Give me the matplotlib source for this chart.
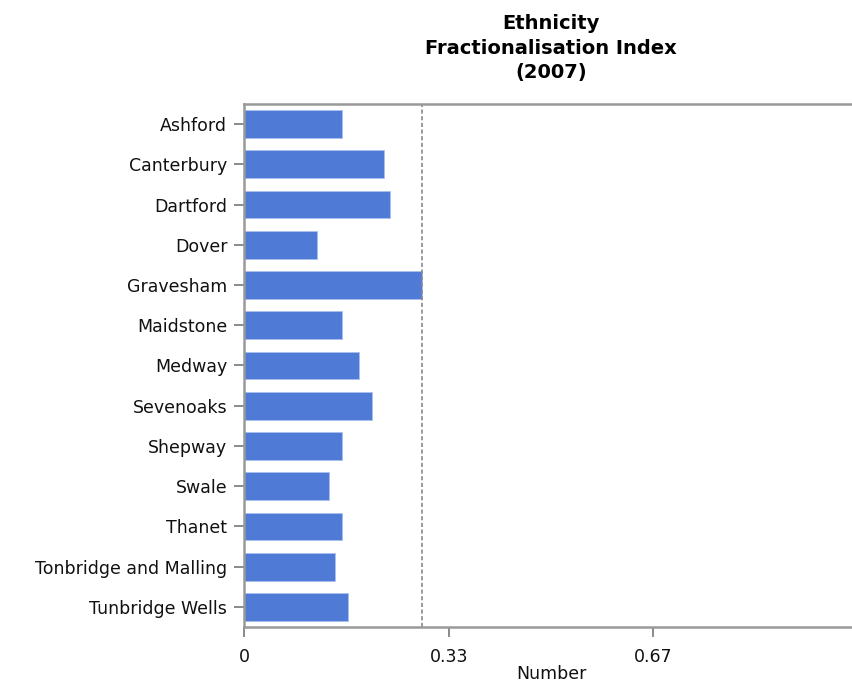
import numpy as np
import matplotlib.pyplot as plt

districts = ['Ashford', 'Canterbury', 'Dartford', 'Dover', 'Gravesham', 'Maidstone',
             'Medway', 'Sevenoaks', 'Shepway', 'Swale', 'Thanet',
             'Tonbridge and Malling', 'Tunbridge Wells']
index_2007 = [0.159, 0.228, 0.237, 0.119, 0.290, 0.159,
              0.188, 0.208, 0.159, 0.139, 0.159, 0.149, 0.169]
ref_line = 0.29
xticks = [0, 1/3, 2/3]
xtick_labels = ['0', '0.33', '0.67']

fig = plt.figure(figsize=(8.53, 6.84), dpi=100)
ax = fig.add_axes([244/853, 57/684, 609/853, 523/684])

y = np.arange(len(districts))
ax.barh(y, index_2007, height=0.69, color='#4f7bd6', edgecolor='#a9c0ee', linewidth=0.6)
ax.axvline(ref_line, color='#8a8a8a', linestyle=(0, (2.5, 1.5)), linewidth=1.2)

ax.set_ylim(len(districts) - 0.5, -0.5)
ax.set_xlim(0, 609/614)
ax.set_yticks(y)
ax.set_yticklabels(districts, fontsize=12.5, color='#111111')
ax.set_xticks(xticks)
ax.set_xticklabels(xtick_labels, fontsize=12.5, color='#111111')
ax.tick_params(axis='both', color='#777777', length=7, width=1.2)
ax.tick_params(axis='y', pad=5)
ax.tick_params(axis='x', pad=8)

for s in ['top', 'left', 'bottom']:
    ax.spines[s].set_color('#999999')
    ax.spines[s].set_linewidth(1.8)
ax.spines['right'].set_visible(False)

# x label placed by hand so it stays inside the figure
fig.text(551/853, 1 - 674/684, 'Number', ha='center', va='center',
         fontsize=12.5, color='#111111')
fig.text(551/853, 1 - 48/684, 'Ethnicity\nFractionalisation Index\n(2007)',
         ha='center', va='center', fontsize=14, fontweight='bold', linespacing=1.38)

fig.savefig('out.png', dpi=100)
